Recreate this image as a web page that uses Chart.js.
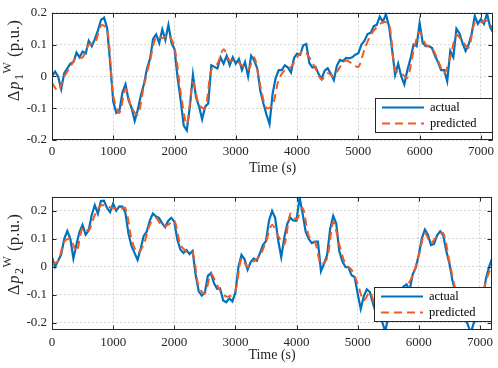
<!DOCTYPE html>
<html>
<head>
<meta charset="utf-8">
<script src="https://cdn.jsdelivr.net/npm/chart.js@4.4.1/dist/chart.umd.min.js"></script>
<style>
  html, body { margin: 0; padding: 0; background: #fff; }
  canvas { display: block; }
</style>
</head>
<body>
<canvas id="p1Chart" width="498" height="184"></canvas>
<canvas id="p2Chart" width="498" height="184"></canvas>
<script>
// sample spacing of the two series (s)
const actualStep = 50;
const predictedStep = 100;

const timeTicks = [0, 1000, 2000, 3000, 4000, 5000, 6000, 7000];
const timeRange = [0, 7200];

const p1Ticks = [-0.2, -0.1, 0, 0.1, 0.2];
const p1Range = [-0.2, 0.2];
const p2Ticks = [-0.2, -0.1, 0, 0.1, 0.2];
const p2Range = [-0.225, 0.25];

// wind farm 1, every 50 s
const p1Actual = [
  0.000, 0.015, 0.000, -0.040, 0.010, 0.025, 0.040, 0.045, 0.075, 0.060,
  0.078, 0.072, 0.112, 0.095, 0.118, 0.145, 0.178, 0.185, 0.152, 0.040,
  -0.080, -0.115, -0.108, -0.050, -0.025, -0.075, -0.100, -0.140, -0.105, -0.060,
  -0.025, 0.025, 0.055, 0.118, 0.132, 0.105, 0.148, 0.115, 0.162, 0.105,
  0.085, -0.005, -0.075, -0.155, -0.170, -0.095, 0.005, -0.065, -0.095, -0.135,
  -0.095, -0.085, 0.035, 0.030, 0.025, 0.060, 0.040, 0.065, 0.035, 0.060,
  0.040, 0.055, 0.020, 0.045, 0.000, 0.065, 0.050, 0.025, -0.045, -0.085,
  -0.120, -0.150, -0.055, -0.005, 0.020, 0.020, 0.035, 0.028, 0.012, 0.058,
  0.072, 0.068, 0.098, 0.102, 0.042, 0.028, 0.030, 0.008, -0.008, 0.018,
  0.026, 0.008, -0.012, 0.034, 0.052, 0.048, 0.058, 0.057, 0.060, 0.068,
  0.073, 0.100, 0.112, 0.133, 0.137, 0.158, 0.162, 0.188, 0.172, 0.195,
  0.158, 0.085, 0.005, 0.040, 0.000, -0.025, 0.020, 0.055, 0.100, 0.095,
  0.168, 0.105, 0.095, 0.095, 0.090, 0.065, 0.045, 0.020, 0.020, -0.015,
  0.080, 0.060, 0.150, 0.135, 0.105, 0.080, 0.100, 0.135, 0.190, 0.165,
  0.180, 0.165, 0.198, 0.155, 0.138
];
// every 100 s
const p1Predicted = [
  -0.020, -0.045, 0.000, 0.030, 0.060, 0.060, 0.100, 0.105, 0.160, 0.150,
  -0.060, -0.115, -0.040, -0.100, -0.120, -0.030, 0.050, 0.125, 0.120, 0.130,
  0.090, -0.050, -0.150, -0.020, -0.090, -0.100, 0.020, 0.040, 0.085, 0.050,
  0.050, 0.035, 0.020, 0.060, -0.030, -0.100, -0.090, -0.010, 0.020, 0.030,
  0.060, 0.080, 0.060, 0.025, -0.010, 0.010, 0.000, 0.030, 0.050, 0.040,
  0.030, 0.085, 0.130, 0.155, 0.170, 0.165, 0.020, 0.010, -0.005, 0.080,
  0.140, 0.100, 0.090, 0.050, 0.010, 0.060, 0.130, 0.110, 0.090, 0.170,
  0.170, 0.175, 0.150
];

// wind farm 2
const p2Actual = [
  0.035, 0.000, 0.022, 0.044, 0.100, 0.128, 0.100, 0.030, 0.080, 0.125,
  0.150, 0.115, 0.130, 0.185, 0.220, 0.190, 0.235, 0.236, 0.210, 0.195,
  0.226, 0.200, 0.216, 0.215, 0.194, 0.120, 0.075, 0.050, 0.025, 0.065,
  0.110, 0.126, 0.165, 0.190, 0.180, 0.175, 0.156, 0.142, 0.164, 0.175,
  0.162, 0.098, 0.062, 0.050, 0.060, 0.046, 0.057, -0.028, -0.087, -0.102,
  -0.092, -0.032, -0.022, -0.058, -0.078, -0.077, -0.120, -0.126, -0.112, -0.123,
  -0.092, 0.000, 0.043, 0.027, -0.010, 0.017, 0.030, 0.022, 0.048, 0.078,
  0.092, 0.165, 0.200, 0.175, 0.095, 0.035, 0.105, 0.155, 0.175, 0.165,
  0.165, 0.248, 0.190, 0.125, 0.100, 0.085, 0.090, 0.090, -0.015, 0.012,
  0.042, 0.135, 0.182, 0.155, 0.056, 0.020, 0.000, -0.002, -0.030, -0.036,
  -0.095, -0.150, -0.105, -0.080, -0.090, -0.130, -0.165, -0.190, -0.195, -0.230,
  -0.180, -0.150, -0.120, -0.100, -0.085, -0.070, -0.062, -0.083, -0.027, -0.003,
  0.043, 0.102, 0.133, 0.115, 0.078, 0.082, 0.113, 0.127, 0.113, 0.057,
  0.013, -0.048, -0.090, -0.120, -0.150, -0.180, -0.205, -0.235, -0.200, -0.185,
  -0.160, -0.110, -0.040, 0.000, 0.030
];
const p2Predicted = [
  0.010, 0.020, 0.090, 0.100, 0.055, 0.140, 0.130, 0.185, 0.220, 0.215,
  0.210, 0.205, 0.210, 0.100, 0.050, 0.080, 0.150, 0.175, 0.145, 0.150,
  0.165, 0.080, 0.055, 0.050, -0.070, -0.095, -0.025, -0.065, -0.100, -0.105,
  -0.085, 0.030, 0.000, 0.020, 0.040, 0.090, 0.150, 0.110, 0.080, 0.190,
  0.170, 0.210, 0.110, 0.090, 0.010, 0.030, 0.160, 0.080, 0.010, -0.010,
  -0.060, -0.120, -0.090, -0.150, -0.190, -0.190, -0.130, -0.090, -0.070, -0.030,
  0.040, 0.120, 0.085, 0.110, 0.120, 0.020, -0.080, -0.140, -0.180, -0.190,
  -0.150, -0.050, 0.010
];

const BLUE = '#0072BD';
const ORANGE = '#F25A22';
const AXIS = '#262626';
const SERIF = '"Liberation Serif", "Times New Roman", serif';

function toPoints(values, step) {
  return values.map((v, i) => ({ x: i * step, y: v }));
}

// Δp_n^W (p.u.), read bottom to top; sub and sup follow each other like MATLAB's tex
function drawYTitle(ctx, x, yStart, sub) {
  ctx.save();
  ctx.translate(x, yStart);
  ctx.rotate(-Math.PI / 2);
  ctx.fillStyle = AXIS;
  ctx.textAlign = 'left';
  ctx.textBaseline = 'alphabetic';
  ctx.font = '16px ' + SERIF;
  ctx.fillText('Δ', 0, 0);
  ctx.font = 'italic 16px ' + SERIF;
  ctx.fillText('p', 11.5, 0);
  ctx.font = '12px ' + SERIF;
  ctx.fillText(sub, 21, 4);
  ctx.fillText('W', 27.5, -8);
  ctx.font = '17px ' + SERIF;
  ctx.fillText('(p.u.)', 44, 0);
  ctx.restore();
}

// box, inward ticks, legend and axis titles in the MATLAB look
const matlabFrame = {
  id: 'matlabFrame',
  afterDatasetsDraw(chart, args, o) {
    const { ctx, chartArea: a, scales } = chart;
    const L = Math.round(a.left) + 0.5, T = Math.round(a.top) + 0.5;
    const R = Math.round(a.right) - 0.5, B = Math.round(a.bottom) - 0.5;
    ctx.save();
    ctx.strokeStyle = AXIS;
    ctx.lineWidth = 1;
    ctx.setLineDash([]);
    ctx.beginPath();
    scales.x.ticks.forEach(t => {
      const px = Math.round(scales.x.getPixelForValue(t.value)) + 0.5;
      ctx.moveTo(px, B); ctx.lineTo(px, B - 4);
      ctx.moveTo(px, T); ctx.lineTo(px, T + 4);
    });
    scales.y.ticks.forEach(t => {
      const py = Math.round(scales.y.getPixelForValue(t.value)) + 0.5;
      ctx.moveTo(L, py); ctx.lineTo(L + 4, py);
      ctx.moveTo(R, py); ctx.lineTo(R - 4, py);
    });
    ctx.stroke();
    ctx.strokeRect(L, T, R - L, B - T);

    // legend
    const lw = 118, lh = 35;
    const lx = Math.round(a.right) - lw, ly = Math.round(a.bottom) - o.legendGap - lh;
    ctx.fillStyle = '#fff';
    ctx.fillRect(lx, ly, lw, lh);
    ctx.strokeRect(lx + 0.5, ly + 0.5, lw - 1, lh - 1);
    chart.data.datasets.forEach((ds, i) => {
      const y = ly + 9.5 + i * 16;
      ctx.strokeStyle = ds.borderColor;
      ctx.lineWidth = 2;
      ctx.setLineDash(ds.borderDash || []);
      ctx.beginPath();
      ctx.moveTo(lx + 7, y);
      ctx.lineTo(lx + 49, y);
      ctx.stroke();
      ctx.setLineDash([]);
      ctx.fillStyle = '#000';
      ctx.font = '12.5px ' + SERIF;
      ctx.textAlign = 'left';
      ctx.textBaseline = 'middle';
      ctx.fillText(ds.label, lx + 55, y);
    });

    ctx.fillStyle = AXIS;
    ctx.font = '14px ' + SERIF;
    ctx.textAlign = 'center';
    ctx.textBaseline = 'middle';
    ctx.fillText('Time (s)', (a.left + a.right) / 2, a.bottom + o.xTitleGap);
    drawYTitle(ctx, 18.5, o.yTitleStart, o.sub);
    ctx.restore();
  }
};

function makeChart(id, actual, predicted, yTicks, yRange, opt) {
  return new Chart(document.getElementById(id), {
    type: 'line',
    data: {
      datasets: [{
        label: 'actual',
        data: toPoints(actual, actualStep),
        borderColor: BLUE,
        borderWidth: 2.2,
        pointRadius: 0,
        tension: 0,
        order: 1
      }, {
        label: 'predicted',
        data: toPoints(predicted, predictedStep),
        borderColor: ORANGE,
        borderWidth: 2,
        borderDash: [8, 5],
        pointRadius: 0,
        tension: 0.3,
        order: 0
      }]
    },
    options: {
      responsive: false,
      animation: false,
      layout: { padding: { top: opt.top, right: 3, left: 0, bottom: 0 } },
      plugins: {
        legend: { display: false },
        tooltip: { enabled: false },
        matlabFrame: opt
      },
      scales: {
        x: {
          type: 'linear',
          min: timeRange[0],
          max: timeRange[1],
          afterBuildTicks: s => { s.ticks = timeTicks.map(v => ({ value: v })); },
          afterFit: s => { s.height = opt.xHeight; },
          grid: { color: '#d4d4d4', drawTicks: false },
          border: { display: false, dash: [2, 2] },
          ticks: {
            color: AXIS,
            padding: opt.xPad,
            maxRotation: 0,
            font: { family: SERIF, size: 13 },
            callback: v => String(v)
          }
        },
        y: {
          min: yRange[0],
          max: yRange[1],
          afterBuildTicks: s => { s.ticks = yTicks.map(v => ({ value: v })); },
          afterFit: s => { s.width = 52; },
          grid: { color: '#d4d4d4', drawTicks: false },
          border: { display: false, dash: [2, 2] },
          ticks: {
            color: AXIS,
            padding: 5,
            font: { family: SERIF, size: 13 },
            callback: v => (v === 0 ? '0' : v.toFixed(1))
          }
        }
      }
    },
    plugins: [matlabFrame]
  });
}

makeChart('p1Chart', p1Actual, p1Predicted, p1Ticks, p1Range,
  { top: 6, xHeight: 44, xPad: 4, legendGap: 7, xTitleGap: 28, yTitleStart: 101, sub: '1' });
makeChart('p2Chart', p2Actual, p2Predicted, p2Ticks, p2Range,
  { top: 11, xHeight: 38, xPad: 5, legendGap: 8, xTitleGap: 25, yTitleStart: 111, sub: '2' });
</script>
</body>
</html>
